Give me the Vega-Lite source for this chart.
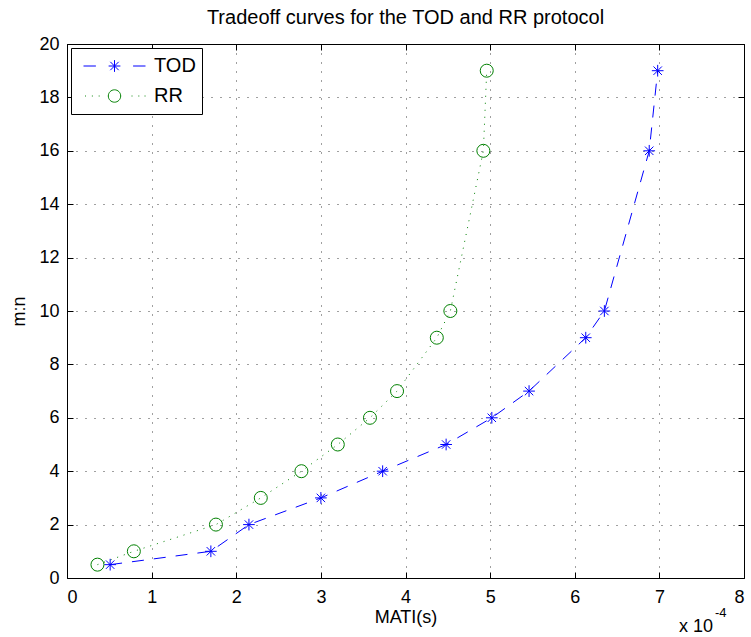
{
  "$schema": "https://vega.github.io/schema/vega-lite/v6.json",
  "width": 677,
  "height": 534,
  "autosize": {"type": "none"},
  "padding": {"left": 67, "top": 44, "right": 7, "bottom": 59},
  "background": "white",
  "title": {"text": "Tradeoff curves for the TOD and RR protocol", "font": "Liberation Sans", "fontSize": 20, "fontWeight": "normal", "color": "black", "offset": 7},
  "config": {
    "view": {"stroke": "black", "strokeWidth": 1},
    "axis": {
      "domain": false,
      "grid": true,
      "gridColor": "black",
      "gridDash": [1, 8],
      "gridOpacity": 0.75,
      "gridWidth": 1,
      "ticks": true,
      "tickSize": -6,
      "tickColor": "black",
      "labelFont": "Liberation Sans",
      "labelFontSize": 18,
      "labelColor": "black",
      "titleFont": "Liberation Sans",
      "titleFontSize": 18,
      "titleFontWeight": "normal",
      "titleColor": "black"
    },
    "legend": {
      "orient": "top-left",
      "offset": 4,
      "padding": 6,
      "strokeColor": "black",
      "fillColor": "white",
      "labelFont": "Liberation Sans",
      "labelFontSize": 20,
      "labelColor": "black",
      "labelOffset": 8,
      "symbolSize": 3844,
      "symbolOffset": 6,
      "symbolStrokeWidth": 1,
      "symbolOpacity": 1,
      "clipHeight": 24,
      "rowPadding": 6
    }
  },
  "data": {
    "values": [
      {"series": "TOD", "mati": 0.000051, "mn": 0.5},
      {"series": "TOD", "mati": 0.000170, "mn": 1},
      {"series": "TOD", "mati": 0.000215, "mn": 2},
      {"series": "TOD", "mati": 0.000300, "mn": 3},
      {"series": "TOD", "mati": 0.000373, "mn": 4},
      {"series": "TOD", "mati": 0.000448, "mn": 5},
      {"series": "TOD", "mati": 0.000502, "mn": 6},
      {"series": "TOD", "mati": 0.000546, "mn": 7},
      {"series": "TOD", "mati": 0.000613, "mn": 9},
      {"series": "TOD", "mati": 0.000635, "mn": 10},
      {"series": "TOD", "mati": 0.000688, "mn": 16},
      {"series": "TOD", "mati": 0.000698, "mn": 19},
      {"series": "RR", "mati": 0.000036, "mn": 0.5},
      {"series": "RR", "mati": 0.000079, "mn": 1},
      {"series": "RR", "mati": 0.000176, "mn": 2},
      {"series": "RR", "mati": 0.000229, "mn": 3},
      {"series": "RR", "mati": 0.000277, "mn": 4},
      {"series": "RR", "mati": 0.000320, "mn": 5},
      {"series": "RR", "mati": 0.000358, "mn": 6},
      {"series": "RR", "mati": 0.000390, "mn": 7},
      {"series": "RR", "mati": 0.000437, "mn": 9},
      {"series": "RR", "mati": 0.000453, "mn": 10},
      {"series": "RR", "mati": 0.000492, "mn": 16},
      {"series": "RR", "mati": 0.000496, "mn": 19}
    ]
  },
  "layer": [
    {
      "mark": {"type": "line", "strokeWidth": 1},
      "encoding": {
        "x": {"field": "mati", "type": "quantitative", "scale": {"domain": [0, 0.0008], "nice": false, "zero": false},
              "axis": {"values": [0, 0.0001, 0.0002, 0.0003, 0.0004, 0.0005, 0.0006, 0.0007, 0.0008], "labelExpr": "format(round(datum.value*10000), 'd')", "title": "MATI(s)", "labelPadding": 16, "titlePadding": 2}},
        "y": {"field": "mn", "type": "quantitative", "scale": {"domain": [0, 20], "nice": false},
              "axis": {"values": [0, 2, 4, 6, 8, 10, 12, 14, 16, 18, 20], "title": "m:n", "labelPadding": 14, "titlePadding": 10}},
        "color": {"field": "series", "type": "nominal", "scale": {"domain": ["TOD", "RR"], "range": ["#0000ff", "#008000"]}, "legend": null},
        "strokeDash": {"field": "series", "type": "nominal", "scale": {"domain": ["TOD", "RR"], "range": [[12, 10], [1, 6]]}, "legend": null}
      }
    },
    {
      "mark": {"type": "point", "filled": false, "strokeWidth": 1, "size": 169, "opacity": 1},
      "encoding": {
        "x": {"field": "mati", "type": "quantitative", "axis": null},
        "y": {"field": "mn", "type": "quantitative", "axis": null},
        "color": {"field": "series", "type": "nominal", "scale": {"domain": ["TOD", "RR"], "range": ["#0000ff", "#008000"]}, "legend": null},
        "shape": {"field": "series", "type": "nominal", "scale": {"domain": ["TOD", "RR"], "range": ["M-0.9,0L0.9,0M0,-0.9L0,0.9M-0.65,-0.65L0.65,0.65M-0.65,0.65L0.65,-0.65", "circle"]}, "legend": null}
      }
    },
    {
      "mark": {"type": "point", "filled": false, "strokeWidth": 1, "opacity": 0},
      "encoding": {
        "x": {"field": "mati", "type": "quantitative", "axis": {"orient": "top", "labels": false, "title": null, "grid": false, "values": [0, 0.0001, 0.0002, 0.0003, 0.0004, 0.0005, 0.0006, 0.0007, 0.0008]}},
        "y": {"field": "mn", "type": "quantitative", "axis": {"orient": "right", "labels": false, "title": null, "grid": false, "values": [0, 2, 4, 6, 8, 10, 12, 14, 16, 18, 20]}},
        "color": {"field": "series", "type": "nominal", "scale": {"domain": ["TOD", "RR"], "range": ["#0000ff", "#008000"]}, "legend": {"title": null}},
        "shape": {"field": "series", "type": "nominal", "scale": {"domain": ["TOD", "RR"], "range": [
          "M-1,0L-0.6,0M0.6,0L1,0M-0.19,0L0.19,0M0,-0.19L0,0.19M-0.135,-0.135L0.135,0.135M-0.135,0.135L0.135,-0.135",
          "M-0.95,0L-0.92,0M-0.73,0L-0.7,0M-0.51,0L-0.48,0M0.55,0L0.58,0M0.77,0L0.8,0M0.97,0L1,0M0.2,0A0.2,0.2,0,1,1,-0.2,0A0.2,0.2,0,1,1,0.2,0"
        ]}, "legend": {"title": null}}
      }
    },
    {
      "data": {"values": [{"mati": 0.0008, "mn": 0, "label": "x 10"}]},
      "mark": {"type": "text", "align": "right", "baseline": "alphabetic", "dx": -31, "dy": 54, "font": "Liberation Sans", "fontSize": 18, "color": "black"},
      "encoding": {
        "x": {"field": "mati", "type": "quantitative", "axis": null},
        "y": {"field": "mn", "type": "quantitative", "axis": null},
        "text": {"field": "label"}
      }
    },
    {
      "data": {"values": [{"mati": 0.0008, "mn": 0, "label": "-4"}]},
      "mark": {"type": "text", "align": "left", "baseline": "alphabetic", "dx": -29, "dy": 39, "font": "Liberation Sans", "fontSize": 13, "color": "black"},
      "encoding": {
        "x": {"field": "mati", "type": "quantitative", "axis": null},
        "y": {"field": "mn", "type": "quantitative", "axis": null},
        "text": {"field": "label"}
      }
    }
  ],
  "resolve": {"scale": {"shape": "independent", "color": "independent"}, "axis": {"x": "independent", "y": "independent"}}
}
